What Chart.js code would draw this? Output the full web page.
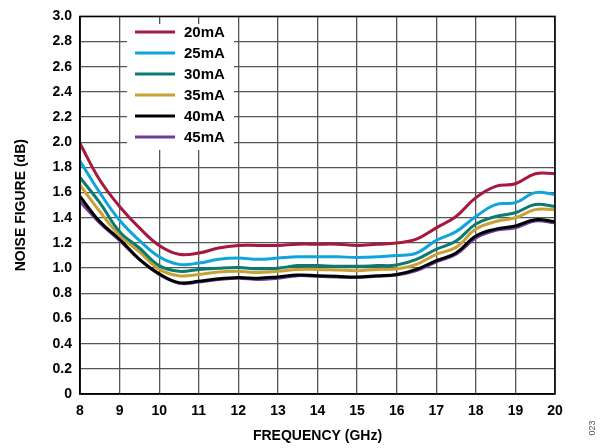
<!DOCTYPE html>
<html lang="en">
<head>
    <meta charset="UTF-8">
    <title>Noise Figure vs Frequency</title>
    <style>
        body { margin: 0; background: #fff; }
        #wrap { width: 604px; height: 448px; }
    </style>
</head>
<body>
    <div id="wrap"><canvas id="nfChart" width="604" height="448"></canvas></div>
    <script src="https://cdn.jsdelivr.net/npm/chart.js@4.4.1/dist/chart.umd.min.js"></script>
    <script type="text/javascript">
        // frequency points (GHz)
        const freq = [8, 8.5, 9, 9.5, 10, 10.5, 11, 11.5, 12, 12.5, 13, 13.5, 14, 14.5, 15, 15.5, 16, 16.5, 17, 17.5, 18, 18.5, 19, 19.5, 20];

        // noise figure (dB) per bias current
        const nf20mA = [1.99, 1.70, 1.49, 1.32, 1.18, 1.11, 1.12, 1.16, 1.18, 1.18, 1.18, 1.19, 1.19, 1.19, 1.18, 1.19, 1.20, 1.23, 1.32, 1.41, 1.56, 1.65, 1.67, 1.75, 1.75];
        const nf25mA = [1.85, 1.60, 1.38, 1.22, 1.09, 1.03, 1.04, 1.07, 1.08, 1.07, 1.08, 1.09, 1.09, 1.09, 1.085, 1.09, 1.10, 1.12, 1.22, 1.29, 1.41, 1.505, 1.52, 1.60, 1.585];
        const nf30mA = [1.72, 1.52, 1.29, 1.16, 1.02, 0.975, 0.99, 1.00, 1.005, 0.995, 1.00, 1.02, 1.02, 1.015, 1.015, 1.02, 1.025, 1.07, 1.15, 1.215, 1.35, 1.41, 1.44, 1.505, 1.49];
        const nf35mA = [1.66, 1.45, 1.26, 1.13, 0.99, 0.94, 0.95, 0.97, 0.975, 0.965, 0.975, 0.99, 0.99, 0.985, 0.98, 0.99, 0.995, 1.03, 1.11, 1.165, 1.31, 1.37, 1.40, 1.465, 1.465];
        const nf40mA = [1.57, 1.37, 1.23, 1.07, 0.955, 0.885, 0.895, 0.915, 0.925, 0.92, 0.93, 0.945, 0.94, 0.935, 0.93, 0.94, 0.95, 0.99, 1.06, 1.12, 1.255, 1.31, 1.335, 1.385, 1.37];
        const nf45mA = [1.53, 1.36, 1.22, 1.07, 0.95, 0.88, 0.89, 0.91, 0.92, 0.91, 0.92, 0.94, 0.935, 0.93, 0.925, 0.935, 0.945, 0.98, 1.05, 1.11, 1.24, 1.30, 1.32, 1.375, 1.36];

        const seriesNames = ['20mA', '25mA', '30mA', '35mA', '40mA', '45mA'];
        const seriesData = [nf20mA, nf25mA, nf30mA, nf35mA, nf40mA, nf45mA];
        const seriesColors = ['#a6193f', '#0ea5dd', '#0b7a70', '#c9a033', '#000000', '#6e3d98'];

        const FONT = '"Liberation Sans", Arial, sans-serif';

        const datasets = seriesNames.map((name, i) => ({
            label: name,
            data: freq.map((f, j) => ({ x: f, y: seriesData[i][j] })),
            borderColor: seriesColors[i],
            borderWidth: 3,
            pointRadius: 0,
            fill: false,
            tension: 0.4
        }));

        // legend box + frame + figure number
        const decorations = {
            id: 'decorations',
            afterDraw(chart) {
                const ctx = chart.ctx;
                const a = chart.chartArea;
                ctx.save();
                ctx.strokeStyle = '#000';
                ctx.lineWidth = 1.5;
                ctx.strokeRect(a.left, a.top, a.right - a.left, a.bottom - a.top);

                ctx.fillStyle = '#fff';
                ctx.fillRect(127, 24, 107, 126);
                ctx.font = 'bold 15px ' + FONT;
                ctx.textBaseline = 'middle';
                seriesNames.forEach((name, i) => {
                    const y = 32 + i * 21;
                    ctx.strokeStyle = seriesColors[i];
                    ctx.lineWidth = 3;
                    ctx.beginPath();
                    ctx.moveTo(135, y);
                    ctx.lineTo(175, y);
                    ctx.stroke();
                    ctx.fillStyle = '#000';
                    ctx.fillText(name, 184, y + 1);
                });

                ctx.translate(593, 428);
                ctx.rotate(-Math.PI / 2);
                ctx.font = '9px ' + FONT;
                ctx.fillStyle = '#555';
                ctx.textAlign = 'center';
                ctx.fillText('023', 0, 0);
                ctx.restore();
            }
        };

        new Chart(document.getElementById('nfChart'), {
            type: 'line',
            data: { datasets: datasets },
            options: {
                responsive: false,
                animation: false,
                layout: { padding: { top: 14, right: 49, left: 0, bottom: 0 } },
                plugins: { legend: { display: false }, tooltip: { enabled: false } },
                scales: {
                    x: {
                        type: 'linear',
                        min: 8,
                        max: 20,
                        afterFit(axis) { axis.height = 54; },
                        ticks: {
                            stepSize: 1,
                            padding: 9,
                            color: '#000',
                            font: { family: FONT, size: 14, weight: 'bold' }
                        },
                        grid: { color: '#555', lineWidth: 1.3, drawTicks: false },
                        border: { color: '#000', width: 1.5 },
                        title: {
                            display: true,
                            text: 'FREQUENCY (GHz)',
                            color: '#000',
                            padding: { top: 0, bottom: 3 },
                            font: { family: FONT, size: 14, weight: 'bold' }
                        }
                    },
                    y: {
                        min: 0,
                        max: 3,
                        afterFit(axis) { axis.width = 80; },
                        ticks: {
                            stepSize: 0.2,
                            padding: 8,
                            color: '#000',
                            font: { family: FONT, size: 14, weight: 'bold' },
                            callback: v => (v === 0 ? '0' : v.toFixed(1))
                        },
                        grid: { color: '#555', lineWidth: 1.3, drawTicks: false },
                        border: { color: '#000', width: 1.5 },
                        title: {
                            display: true,
                            text: 'NOISE FIGURE (dB)',
                            color: '#000',
                            padding: { top: 13, bottom: 0 },
                            font: { family: FONT, size: 14, weight: 'bold' }
                        }
                    }
                }
            },
            plugins: [decorations]
        });
    </script>
</body>
</html>
